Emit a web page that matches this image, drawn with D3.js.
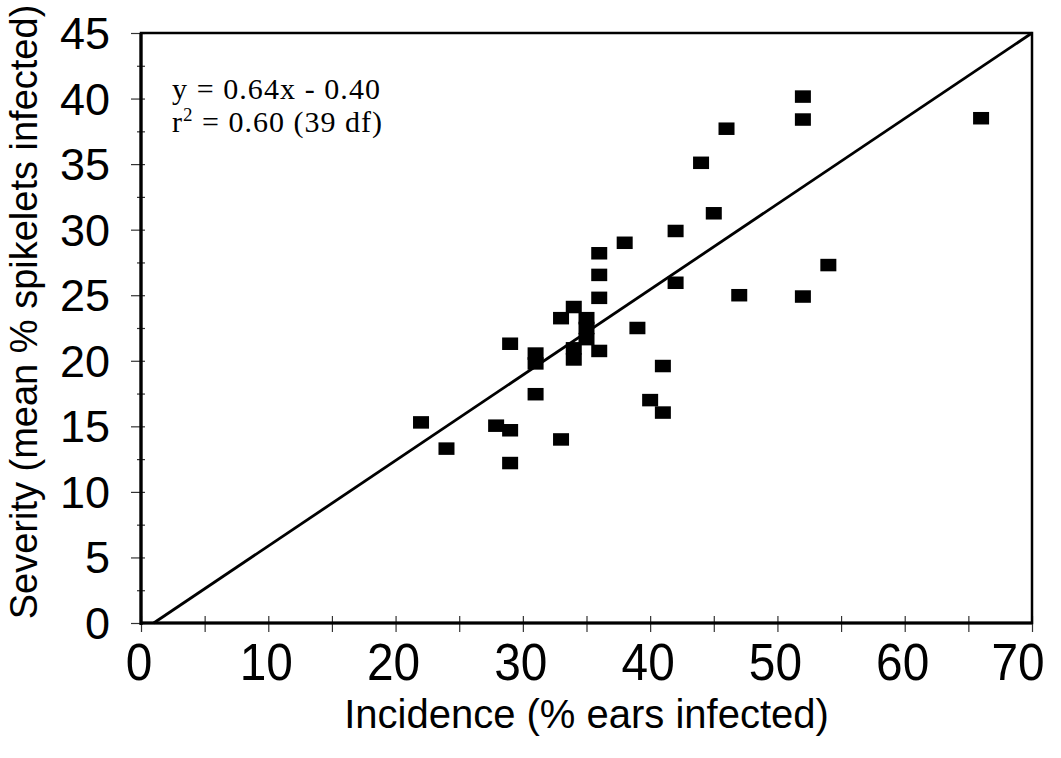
<!DOCTYPE html>
<html>
<head>
<meta charset="utf-8">
<script src="https://cdn.jsdelivr.net/npm/d3@7"></script>
<style>
  html, body { margin: 0; padding: 0; background: #fff; }
  svg { display: block; }
</style>
</head>
<body>
<svg id="chart" width="1061" height="758"></svg>
<script>
// ---- data ----
const incidence = [22, 24, 27.9, 29, 29, 29, 31, 31, 31, 33, 33, 34, 34, 34, 35, 35, 35, 36, 36, 36, 36,
                   39, 41, 40, 41, 42, 52, 52, 46, 44, 45, 42, 38, 47, 52, 54, 66];
const severity  = [15.3, 13.3, 15.05, 14.7, 12.2, 21.3, 20.55, 19.8, 17.45, 14.0, 23.25, 24.1, 20.95, 20.1,
                   23.25, 22.5, 21.65, 20.75, 24.8, 26.55, 28.2,
                   22.5, 19.6, 17.0, 16.05, 25.95, 40.15, 38.4, 37.7, 35.1, 31.25, 29.9, 29.0, 25.0, 24.9, 27.3, 38.5];
// regression line endpoints as drawn (incidence, severity)
const fitX = [1.0, 70];
const fitY = [0, 45];
const xTickLabels = [0, 10, 20, 30, 40, 50, 60, 70];
const yTickLabels = [0, 5, 10, 15, 20, 25, 30, 35, 40, 45];
const equationLines = ["y  = 0.64x - 0.40", "r2 = 0.60 (39 df)"];
const xTitle = "Incidence (% ears infected)";
const yTitle = "Severity (mean % spikelets infected)";

// ---- layout ----
const svg = d3.select("#chart");
const L = 141, R = 1032, T = 33, B = 623;
const x = d3.scaleLinear().domain([0, 70]).range([L, R]);
const y = d3.scaleLinear().domain([0, 45]).range([B, T]);

// ticks via axes
const xAxisTop = d3.axisTop(x).tickValues(d3.range(0, 70.1, 5)).tickSize(7).tickFormat("");
const xAxisBot = d3.axisBottom(x).tickValues(d3.range(0, 70.1, 5)).tickSize(9).tickFormat("");
[xAxisTop, xAxisBot].forEach(ax => {
  svg.append("g").attr("transform", `translate(0,${B})`).call(ax)
    .call(g => g.select(".domain").remove())
    .selectAll("line").attr("stroke", "#333").attr("stroke-width", 1.2);
});

const yAxisMajor = d3.axisLeft(y).tickValues(yTickLabels).tickSize(10).tickFormat("");
const yAxisMinor = d3.axisLeft(y).tickValues(d3.range(2.5, 45, 5)).tickSize(4).tickFormat("");
const yAxisIn = d3.axisRight(y).tickValues(d3.range(0, 45.1, 2.5)).tickSize(4).tickFormat("");
[yAxisMajor, yAxisMinor, yAxisIn].forEach(ax => {
  svg.append("g").attr("transform", `translate(${L},0)`).call(ax)
    .call(g => g.select(".domain").remove())
    .selectAll("line").attr("stroke", "#333").attr("stroke-width", 1.2);
});

// frame
svg.append("rect").attr("x", x(0)).attr("y", y(45))
  .attr("width", x(70) - x(0)).attr("height", y(0) - y(45))
  .attr("fill", "none").attr("stroke", "#000").attr("stroke-width", 2.5);
svg.append("line").attr("x1", x(0)).attr("x2", x(0)).attr("y1", y(45)).attr("y2", y(0) + 2)
  .attr("stroke", "#000").attr("stroke-width", 3.2);
svg.append("line").attr("x1", x(0)).attr("x2", x(70)).attr("y1", y(0)).attr("y2", y(0))
  .attr("stroke", "#000").attr("stroke-width", 3.2);

// regression line
svg.append("line")
  .attr("x1", x(fitX[0])).attr("y1", y(fitY[0]))
  .attr("x2", x(fitX[1])).attr("y2", y(fitY[1]))
  .attr("stroke", "#000").attr("stroke-width", 2.8);

// points
const pts = incidence.map((v, i) => ({ x: v, y: severity[i] }));
const sw = 16, sh = 12.5;
svg.append("g").selectAll("rect").data(pts).join("rect")
  .attr("x", d => x(d.x) - sw / 2).attr("y", d => y(d.y) - sh / 2)
  .attr("width", sw).attr("height", sh).attr("fill", "#000");

// x tick labels
svg.append("g").selectAll("text").data(xTickLabels).join("text")
  .attr("transform", d => `translate(${x(d) - (d === 70 ? 14 : 2)},${680}) scale(0.92,1)`)
  .attr("text-anchor", "middle")
  .style("font-family", "'Liberation Sans', Arial, sans-serif")
  .style("font-size", "52px")
  .attr("fill", "#000")
  .text(d => d);

// y tick labels
svg.append("g").selectAll("text").data(yTickLabels).join("text")
  .attr("x", 110).attr("y", d => y(d) + 16)
  .attr("text-anchor", "end")
  .style("font-family", "'Liberation Sans', Arial, sans-serif")
  .style("font-size", "45px")
  .attr("fill", "#000")
  .text(d => d);

// axis titles
svg.append("text")
  .attr("transform", `translate(${(L + R) / 2},${728})`)
  .attr("text-anchor", "middle")
  .style("font-family", "'Liberation Sans', Arial, sans-serif")
  .style("font-size", "40px")
  .text(xTitle);
svg.append("text")
  .attr("transform", `translate(${37},${312}) rotate(-90)`)
  .attr("text-anchor", "middle")
  .style("font-family", "'Liberation Sans', Arial, sans-serif")
  .style("font-size", "38px")
  .text(yTitle);

// equation annotation
const eq = svg.append("g").style("font-family", "'Liberation Serif', 'Times New Roman', serif")
  .style("font-size", "30px").attr("fill", "#000");
eq.append("text").attr("x", 172).attr("y", 99)
  .attr("textLength", 208).attr("lengthAdjust", "spacing")
  .text(equationLines[0]);
const t2 = eq.append("text").attr("x", 172).attr("y", 132)
  .attr("textLength", 210).attr("lengthAdjust", "spacing");
t2.append("tspan").text(equationLines[1].slice(0, 1));
t2.append("tspan").attr("dy", -11).style("font-size", "19px").text(equationLines[1].slice(1, 2));
t2.append("tspan").attr("dy", 11).text(equationLines[1].slice(2));
</script>
</body>
</html>
